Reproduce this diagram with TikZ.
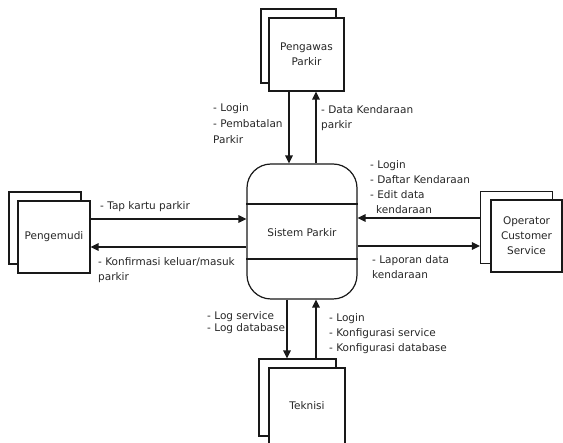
\documentclass[tikz,border=0pt]{standalone}
\usepackage{fontspec}
\setmainfont{DejaVu Sans}
\usetikzlibrary{arrows.meta}
\begin{document}
\begin{tikzpicture}[x=1pt,y=-1pt,
  font=\fontsize{10.5}{15}\selectfont,
  box/.style={draw=black!90,line width=1.2pt,fill=white,minimum width=72pt,minimum height=72pt,inner sep=0pt,align=center,text=black!85},
  backbox/.style={draw=black!90,line width=1.2pt,fill=white,minimum width=72pt,minimum height=72pt,inner sep=0pt},
  flow/.style={draw=black!90,line width=1.3pt,-{Triangle[length=8pt,width=7.5pt]}},
  lbl/.style={anchor=base west,inner sep=0pt,align=left,text=black!85}]
\useasboundingbox (0,0) rectangle (563,443);
% Sistem Parkir
\node[draw=black!90,line width=1.2pt,rounded corners=24pt,minimum width=110pt,minimum height=135pt,inner sep=0pt,text=black!85] (sis) at (302,231.5) {};
\node[inner sep=0pt,text=black!85] (sislbl) at (302,233) {Sistem Parkir};
\draw[line width=1.2pt,black!90] (sis.west |- 0,204) -- (sis.east |- 0,204);
\draw[line width=1.2pt,black!90] (sis.west |- 0,259) -- (sis.east |- 0,259);
% Pengawas Parkir
\node[backbox,minimum width=75pt,minimum height=74pt] (pwb) at (298.5,46) {};
\node[box,minimum width=75pt,minimum height=73pt] (pw) at (306.5,54.5) {Pengawas\\Parkir};
% Pengemudi
\node[backbox] (pmb) at (45,228) {};
\node[box] (pm) at (54,237) {Pengemudi};
% Operator
\node[backbox] (opb) at (516.5,227.5) {};
\node[box,minimum width=71pt] (op) at (526.5,236) {Operator\\Customer\\Service};
% Teknisi
\node[backbox,minimum width=77pt,minimum height=77pt] (tkb) at (297.5,397.5) {};
\node[box,minimum width=76pt,minimum height=76pt] (tk) at (307,406) {Teknisi};
% flows top
\draw[flow] (pw.south -| 289,0) -- (sis.north -| 289,0);
\draw[flow] (sis.north -| 316,0) -- (pw.south -| 316,0);
% flows left
\draw[flow] (pm.east |- 0,219) -- (sis.west |- 0,219);
\draw[flow] (sis.west |- 0,247) -- (pm.east |- 0,247);
% flows right
\draw[flow] (opb.west |- 0,218) -- (sis.east |- 0,218);
\draw[flow] (sis.east |- 0,246) -- (opb.west |- 0,246);
% flows bottom
\draw[flow] (sis.south -| 287,0) -- (tkb.north -| 287,0);
\draw[flow] (tkb.north -| 316,0) -- (sis.south -| 316,0);
% labels (base anchor = baseline of last line)
\node[lbl,font=\fontsize{10.5}{16}\selectfont] (l1) at (213,144) {- Login\\- Pembatalan\\Parkir};
\node[lbl] (l2) at (321,128.5) {- Data Kendaraan\\parkir};
\node[lbl,font=\fontsize{10.5}{15}\selectfont] (l3) at (370,213.5) {- Login\\- Daftar Kendaraan\\- Edit data\\\hspace*{6pt}kendaraan};
\node[lbl] (l4) at (372,278.5) {- Laporan data\\kendaraan};
\node[lbl] (l5) at (100,209.5) {- Tap kartu parkir};
\node[lbl,font=\fontsize{10.5}{14.5}\selectfont] (l6) at (98,280.5) {- Konfirmasi keluar/masuk\\parkir};
\node[lbl,font=\fontsize{10.5}{12.5}\selectfont] (l7) at (207,332) {- Log service\\- Log database};
\node[lbl] (l8) at (329,351.5) {- Login\\- Konfigurasi service\\- Konfigurasi database};
\end{tikzpicture}
\end{document}
